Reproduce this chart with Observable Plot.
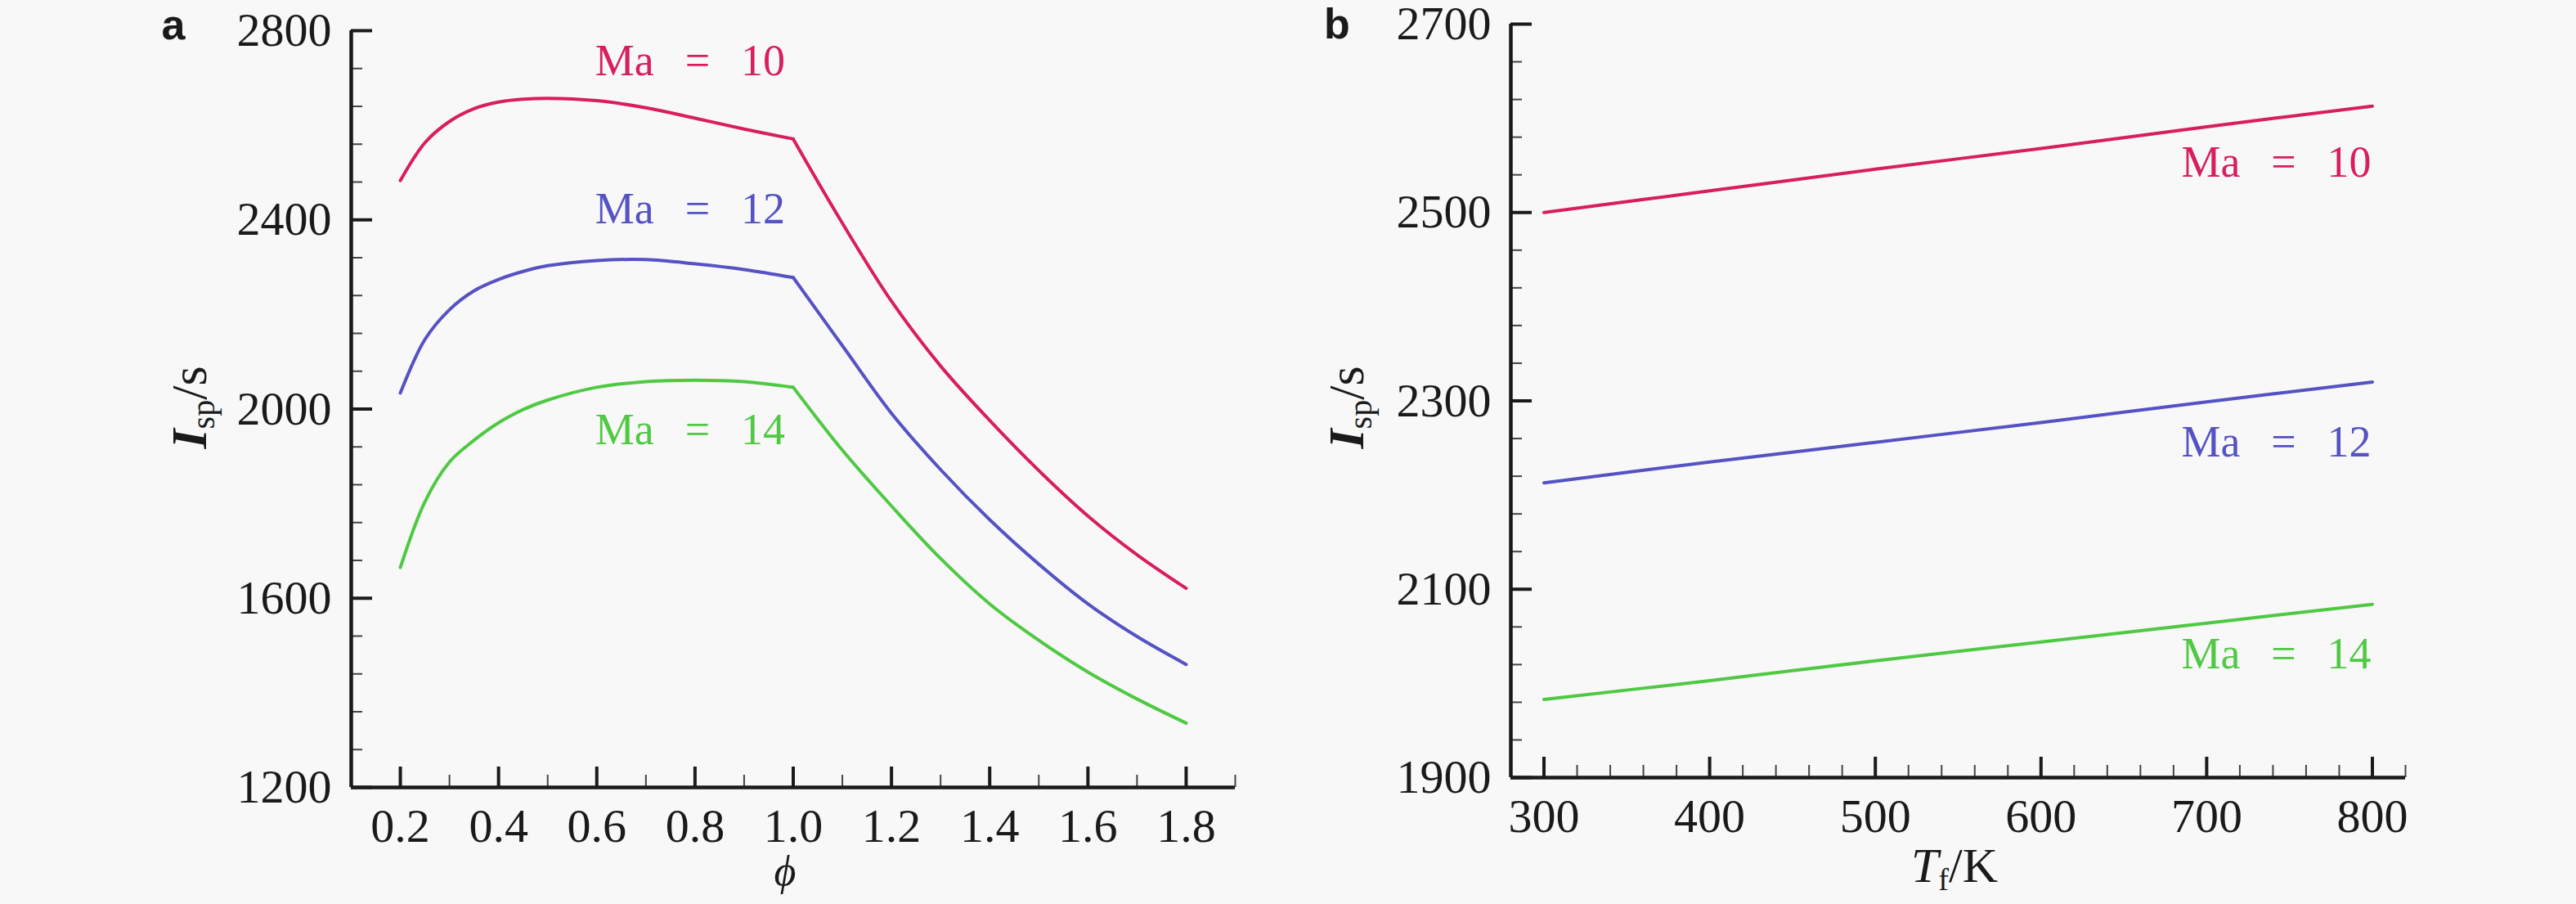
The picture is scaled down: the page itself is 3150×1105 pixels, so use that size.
<!DOCTYPE html>
<html><head><meta charset="utf-8">
<script src="https://cdn.jsdelivr.net/npm/d3@7"></script>
<script src="https://cdn.jsdelivr.net/npm/@observablehq/plot@0.6"></script>
<style>
html,body{margin:0;padding:0;background:#f8f8f8;}
#wrap{display:flex;width:3150px;height:1105px;}
#wrap svg{display:block;}
#wrap svg, #wrap svg g, #wrap svg text{font-family:'Liberation Serif','DejaVu Serif',serif !important;}
#wrap svg text.sans{font-family:'Liberation Sans',Arial,sans-serif !important;}
</style></head><body><div id="wrap"></div>
<script>
// ---- data ----
const series = ["Ma = 10", "Ma = 12", "Ma = 14"];
const seriesText = ["Ma\u2002\u2009=\u2002\u200910", "Ma\u2002\u2009=\u2002\u200912", "Ma\u2002\u2009=\u2002\u200914"];
const colors = ["#d81e5b", "#5552c4", "#4fc943"];

// panel a: equivalence ratio phi
const phi    = [0.2, 0.25, 0.3, 0.35, 0.4, 0.45, 0.5, 0.6, 0.7, 0.8, 0.9, 1.0, 1.1, 1.2, 1.3, 1.4, 1.5, 1.6, 1.7, 1.8];
const ispA10 = [2483, 2563, 2608, 2635, 2649, 2655, 2657, 2652, 2637, 2615, 2592, 2571, 2393, 2228, 2091, 1976, 1870, 1774, 1692, 1621];
const ispA12 = [2034, 2147, 2210, 2250, 2274, 2291, 2303, 2314, 2316, 2307, 2295, 2278, 2134, 1991, 1872, 1766, 1672, 1588, 1519, 1460];
const ispA14 = [1665, 1804, 1888, 1934, 1971, 1999, 2019, 2046, 2058, 2061, 2058, 2046, 1913, 1795, 1684, 1588, 1511, 1444, 1387, 1336];
const xTicksA = [0.2, 0.4, 0.6, 0.8, 1.0, 1.2, 1.4, 1.6, 1.8];
const xMinorA = [0.3, 0.5, 0.7, 0.9, 1.1, 1.3, 1.5, 1.7, 1.9];
const yTicksA = [1200, 1600, 2000, 2400, 2800];
const yMinorA = [1280, 1360, 1440, 1520, 1680, 1760, 1840, 1920, 2080, 2160, 2240, 2320, 2480, 2560, 2640, 2720];
const labelXA = [0.79, 0.79, 0.79];
const labelYA = [2705, 2392, 1925];

// panel b: fuel temperature T_f
const tf     = [300, 400, 500, 600, 700, 800];
const ispB10 = [2500, 2523, 2546, 2568, 2591, 2613];
const ispB12 = [2213, 2235, 2256, 2277, 2299, 2320];
const ispB14 = [1983, 2003, 2024, 2044, 2064, 2084];
const xTicksB = [300, 400, 500, 600, 700, 800];
const xMinorB = [320, 340, 360, 380, 420, 440, 460, 480, 520, 540, 560, 580, 620, 640, 660, 680, 720, 740, 760, 780, 820];
const yTicksB = [1900, 2100, 2300, 2500, 2700];
const yMinorB = [1940, 1980, 2020, 2060, 2140, 2180, 2220, 2260, 2340, 2380, 2420, 2460, 2540, 2580, 2620, 2660];
const labelXB = [742, 742, 742];
const labelYB = [2538, 2241, 2016];

// ---- build tables ----
const rowsA = [];
[ispA10, ispA12, ispA14].forEach((arr, s) => arr.forEach((v, i) => {
  const p = phi[i];
  if (p <= 1.0) rowsA.push({series: series[s], seg: series[s] + " L", x: p, y: v});
  if (p >= 1.0) rowsA.push({series: series[s], seg: series[s] + " R", x: p, y: v});
}));
const rowsB = [];
[ispB10, ispB12, ispB14].forEach((arr, s) => arr.forEach((v, i) => rowsB.push({series: series[s], seg: series[s], x: tf[i], y: v})));
const labA = series.map((s, i) => ({series: s, text: seriesText[i], x: labelXA[i], y: labelYA[i]}));
const labB = series.map((s, i) => ({series: s, text: seriesText[i], x: labelXB[i], y: labelYB[i]}));

const SERIF = "Liberation Serif";

function panel({data, labels, xDomain, yDomain, xTicks, yTicks, xMinor, yMinor, xFmt, margins}) {
  return Plot.plot({
    width: 1575, height: 1105, ...margins,
    style: {fontSize: "58px", color: "#1a1a1a", background: "transparent", overflow: "visible"},
    x: {domain: xDomain, label: null},
    y: {domain: yDomain, label: null},
    color: {domain: series, range: colors},
    marks: [
      Plot.axisX(xTicks, {tickSize: 0, tickPadding: 25, tickFormat: xFmt, label: null, fontSize: 58, fontFamily: SERIF}),
      Plot.axisY(yTicks, {tickSize: 0, tickPadding: 24, tickFormat: d => String(d), label: null, fontSize: 58, fontFamily: SERIF}),
      Plot.ruleY(yMinor, {y: d => d, x1: xDomain[0], x2: xDomain[0], insetRight: -14, stroke: "#444", strokeWidth: 2}),
      Plot.ruleY(yTicks, {y: d => d, x1: xDomain[0], x2: xDomain[0], insetRight: -26, stroke: "#1a1a1a", strokeWidth: 4}),
      Plot.ruleX(xMinor, {x: d => d, y1: yDomain[0], y2: yDomain[0], insetTop: -15, stroke: "#444", strokeWidth: 2}),
      Plot.ruleX(xTicks, {x: d => d, y1: yDomain[0], y2: yDomain[0], insetTop: -25, stroke: "#1a1a1a", strokeWidth: 4}),
      Plot.ruleX([xDomain[0]], {stroke: "#1a1a1a", strokeWidth: 4.5}),
      Plot.ruleY([yDomain[0]], {stroke: "#1a1a1a", strokeWidth: 4.5}),
      Plot.line(data, {x: "x", y: "y", z: "seg", stroke: "series", strokeWidth: 4, curve: "catmull-rom"}),
      Plot.text(labels, {x: "x", y: "y", text: "text", fill: "series", textAnchor: "middle", lineAnchor: "bottom", fontSize: 54, fontFamily: SERIF})
    ]
  });
}

const A = panel({
  data: rowsA, labels: labA, xDomain: [0.1, 1.9], yDomain: [1200, 2800],
  xTicks: xTicksA, yTicks: yTicksA, xMinor: xMinorA, yMinor: yMinorA,
  xFmt: d3.format(".1f"),
  margins: {marginLeft: 429, marginRight: 65, marginTop: 37, marginBottom: 143}
});
const B = panel({
  data: rowsB, labels: labB, xDomain: [280, 820], yDomain: [1900, 2700],
  xTicks: xTicksB, yTicks: yTicksB, xMinor: xMinorB, yMinor: yMinorB,
  xFmt: d => String(d),
  margins: {marginLeft: 272, marginRight: 209, marginTop: 29, marginBottom: 155}
});
const wrap = document.getElementById("wrap");
wrap.appendChild(A);
wrap.appendChild(B);

// axis titles and panel letters
function yTitle(svg, x, y) {
  const t = d3.select(svg).append("text")
    .attr("transform", `translate(${x},${y}) rotate(-90)`)
    .attr("text-anchor", "middle").attr("font-size", 62).attr("fill", "#1a1a1a");
  t.append("tspan").attr("font-style", "italic").attr("font-weight", "bold").text("I");
  t.append("tspan").attr("font-size", 40).attr("dy", 10).text("sp");
  t.append("tspan").attr("dy", -10).text("/s");
}
function letter(svg, x, y, s) {
  d3.select(svg).append("text").attr("class", "sans").attr("x", x).attr("y", y)
    .attr("font-weight", "bold").attr("font-size", 52).attr("fill", "#1a1a1a").text(s);
}
yTitle(A, 252, 498);
yTitle(B, 92, 498);
letter(A, 212, 48, "a");
letter(B, 60, 47, "b");
d3.select(A).append("text").attr("x", 960).attr("y", 1082).attr("text-anchor", "middle")
  .attr("font-style", "italic").attr("font-size", 52).attr("fill", "#1a1a1a").text("\u03d5");
const tx = d3.select(B).append("text").attr("x", 815).attr("y", 1078).attr("text-anchor", "middle")
  .attr("font-size", 60).attr("fill", "#1a1a1a");
tx.append("tspan").attr("font-style", "italic").text("T");
tx.append("tspan").attr("font-size", 38).attr("dy", 10).text("f");
tx.append("tspan").attr("dy", -10).text("/K");
</script>
</body></html>
